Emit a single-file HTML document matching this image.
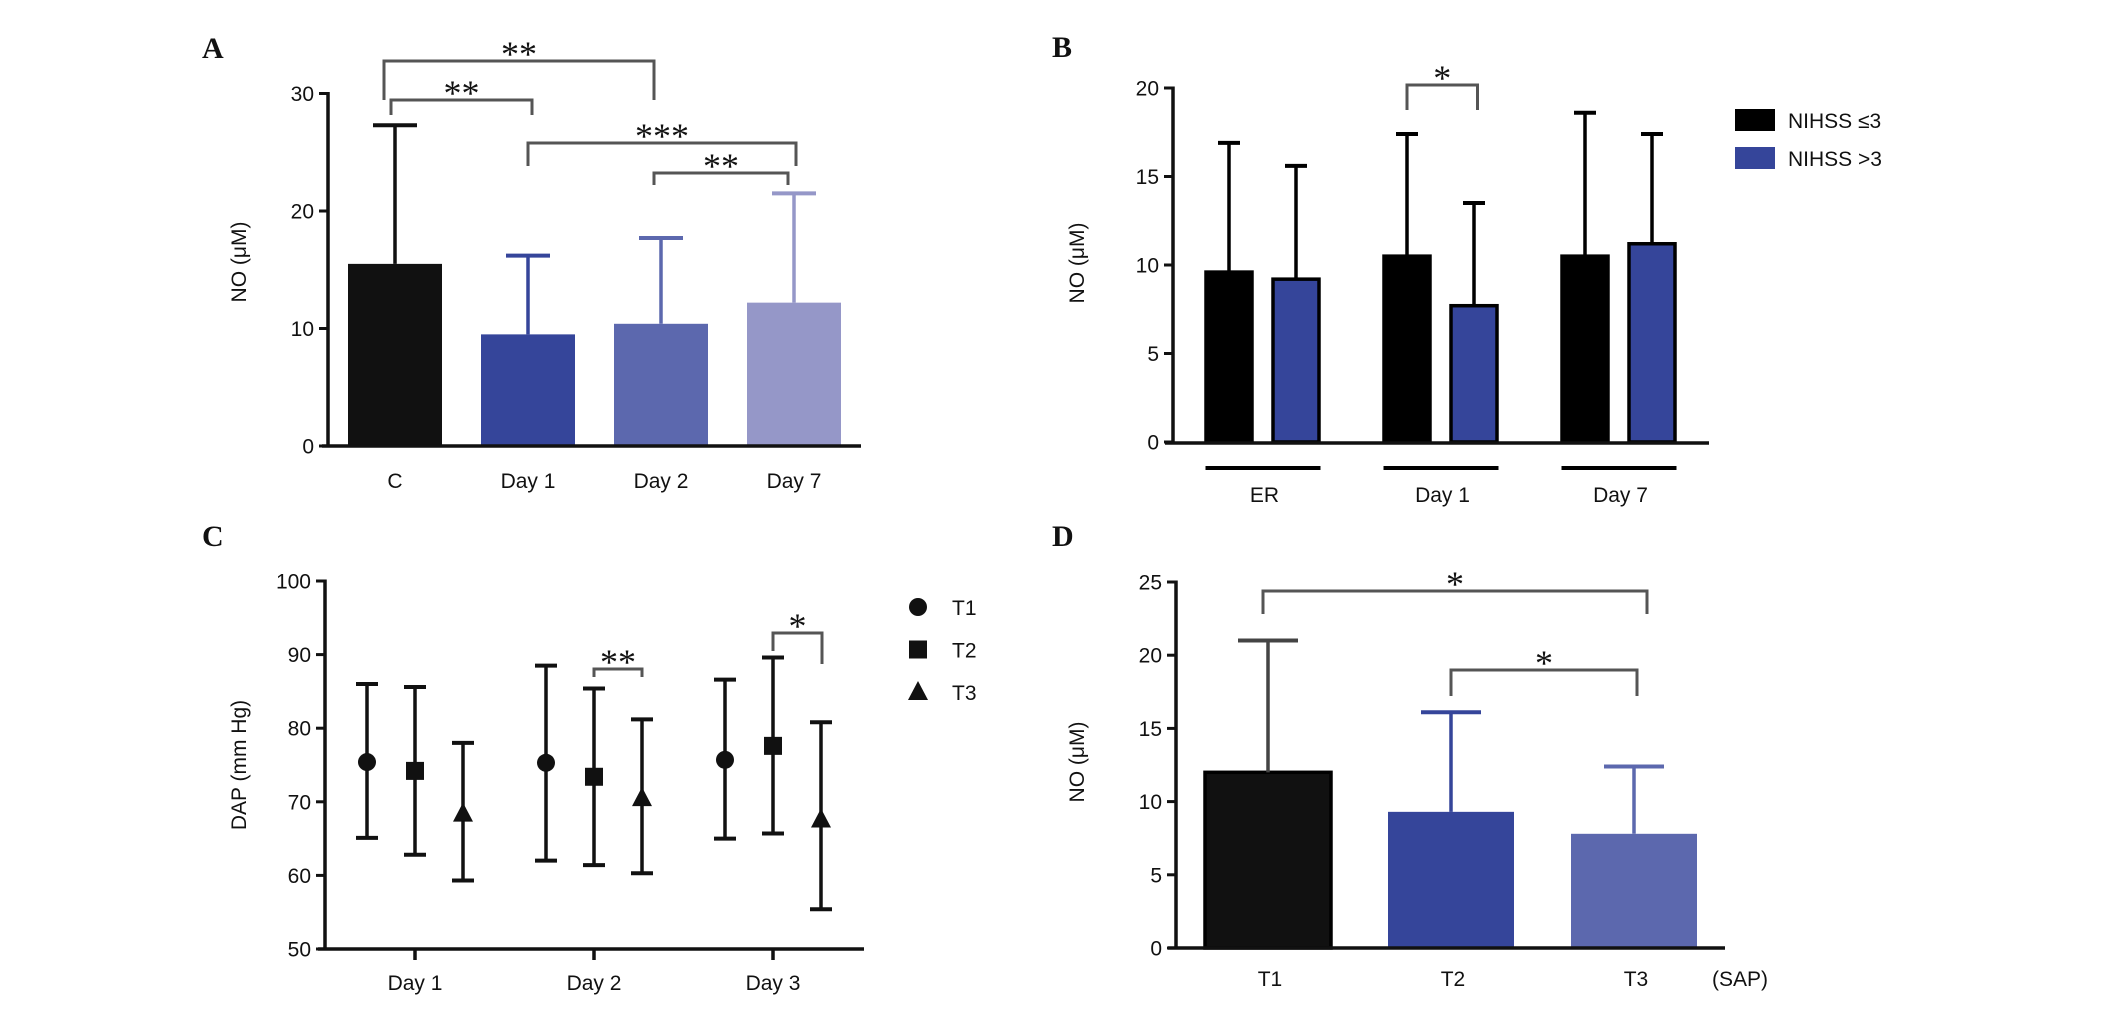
<!DOCTYPE html>
<html><head><meta charset="utf-8"><style>
html,body{margin:0;padding:0;background:#fff;}
svg{display:block;}
text{font-family:"Liberation Sans",sans-serif;fill:#111;}
.lt{font-family:"Liberation Serif",serif;font-weight:bold;font-size:30px;}
.tk{font-size:21px;}
.st{font-family:"Liberation Serif",serif;font-size:36px;}
</style></head><body>
<svg id="fig" width="2126" height="1024" viewBox="0 0 2126 1024" xmlns="http://www.w3.org/2000/svg">
<text class="lt" x="202" y="58">A</text>
<text class="lt" x="1052" y="57">B</text>
<text class="lt" x="202" y="546">C</text>
<text class="lt" x="1052" y="546">D</text>
<g id="gA"></g>
<g id="gB"></g>
<g id="gC"></g>
<g id="gD"></g>
</svg>
<script>
// Panel A data
const aCats = ["C","Day 1","Day 2","Day 7"];
const aMeans = [15.5, 9.5, 10.4, 12.2];
const aSD = [11.8, 6.7, 7.3, 9.3];
const aTicks = [0,10,20,30];
// Panel B data
const bGroups = ["ER","Day 1","Day 7"];
const bSeries = ["NIHSS \u22643","NIHSS >3"];
const bLow = [9.6, 10.5, 10.5];
const bLowSD = [7.3, 6.9, 8.1];
const bHigh = [9.2, 7.7, 11.2];
const bHighSD = [6.4, 5.8, 6.2];
const bTicks = [0,5,10,15,20];
// Panel C data
const cDays = ["Day 1","Day 2","Day 3"];
const cSeries = ["T1","T2","T3"];
const cT1 = [75.4, 75.3, 75.7];
const cT1Hi = [86.0, 88.5, 86.6];
const cT1Lo = [65.1, 62.0, 65.0];
const cT2 = [74.2, 73.4, 77.6];
const cT2Hi = [85.6, 85.4, 89.6];
const cT2Lo = [62.8, 61.4, 65.7];
const cT3 = [68.4, 70.5, 67.6];
const cT3Hi = [78.0, 81.2, 80.8];
const cT3Lo = [59.3, 60.3, 55.4];
const cTicks = [50,60,70,80,90,100];
// Panel D data
const dCats = ["T1","T2","T3"];
const dMeans = [12.0, 9.3, 7.8];
const dSD = [9.0, 6.8, 4.6];
const dTicks = [0,5,10,15,20,25];

const NS="http://www.w3.org/2000/svg";
function mk(parent, tag, attrs, txt){
  const e=document.createElementNS(NS,tag);
  for(const k in attrs) e.setAttribute(k,attrs[k]);
  if(txt!==undefined) e.textContent=txt;
  parent.appendChild(e); return e;
}
function ln(p,x1,y1,x2,y2,col,w,name){
  const e=mk(p,'line',{x1:x1,y1:y1,x2:x2,y2:y2,stroke:col,'stroke-width':w});
  
  
  return e;
}
function yAxis(p,ax,yf,ticks,top,bot,name){
  ln(p,ax,top-1.5,ax,bot+1.5,'#111',3.5,name+'-y-axis');
  ticks.forEach(t=>{
    const y=yf(t);
    ln(p,ax-9,y,ax,y,'#111',3,name+'-y-tick');
    const tx=mk(p,'text',{x:ax-14,y:y+7.5,'text-anchor':'end',class:'tk'},String(t));
    
    
  });
}
function yTitle(p,x,y,txt,name){
  const t=mk(p,'text',{x:x,y:y,'text-anchor':'middle',class:'tk',transform:'rotate(-90 '+x+' '+y+')'},txt);
  
  
}
function label(p,x,y,txt,name,size){
  const t=mk(p,'text',{x:x,y:y,'text-anchor':'middle',class:'tk'},txt);
  if(size) t.setAttribute('font-size',size);
  
  
  return t;
}
function bracket(p,x1,x2,y,l1,l2,stars,name){
  const e=mk(p,'path',{d:'M'+x1+' '+l1+' L'+x1+' '+y+' L'+x2+' '+y+' L'+x2+' '+l2,fill:'none',stroke:'#555','stroke-width':3});
  
  
  const t=mk(p,'text',{x:(x1+x2)/2,y:y+5,'text-anchor':'middle',class:'st'},stars);
  
  
}
function bar(p,cx,w,y0,yv,fill,stroke,name){
  const r=mk(p,'rect',{x:cx-w/2,y:yv,width:w,height:y0-yv,fill:fill});
  if(stroke){r.setAttribute('stroke',stroke);r.setAttribute('stroke-width',3.5);}
  
  
}
function err(p,cx,y1,y2,cap,col,name){
  ln(p,cx,y1,cx,y2,col,3.5,name);
  ln(p,cx-cap/2,y2,cx+cap/2,y2,col,4,name+'-cap');
}

// ---------- Panel A ----------
(function(){
  const g=document.getElementById('gA');
  const yA=v=>446-v*11.75;
  const xA=i=>395+i*133;
  const cols=['#111111','#35459a','#5c68ae','#9597c8'];
  aCats.forEach((c,i)=>{
    bar(g,xA(i),94,446,yA(aMeans[i]),cols[i],null,'bar-a-'+i);
    err(g,xA(i),yA(aMeans[i]),yA(aMeans[i]+aSD[i]),44,cols[i],'error-bar-a-'+i);
    label(g,xA(i),488,c,'x-tick-label-a');
  });
  yAxis(g,328,yA,aTicks,yA(30),446,'panel-a');
  ln(g,322,446,861,446,'#111',3.5,'panel-a-x-axis');
  yTitle(g,246,262,'NO (\u03bcM)','panel-a-y-axis-title');
  bracket(g,xA(0)-11,xA(2)-7,61,100,100,'**','bracket-c-day2');
  bracket(g,xA(0)-4,xA(1)+4,100,115,115,'**','bracket-c-day1');
  bracket(g,xA(1),xA(3)+2,143,166,166,'***','bracket-day1-day7');
  bracket(g,xA(2)-7,xA(3)-6,173,185,185,'**','bracket-day2-day7');
})();

// ---------- Panel B ----------
(function(){
  const g=document.getElementById('gB');
  const yB=v=>442-v*17.7;
  const xG=i=>1262.5+i*178;
  const cols=['#000000','#35459a'];
  bGroups.forEach((gr,i)=>{
    const xl=xG(i)-33.5, xh=xG(i)+33.5;
    bar(g,xl,46,442,yB(bLow[i]),cols[0],'#000','bar-b-low-'+i);
    err(g,xl,yB(bLow[i]),yB(bLow[i]+bLowSD[i]),22,'#000','error-bar-b-low-'+i);
    bar(g,xh,46,442,yB(bHigh[i]),cols[1],'#000','bar-b-high-'+i);
    err(g,xh,yB(bHigh[i]),yB(bHigh[i]+bHighSD[i]),22,'#000','error-bar-b-high-'+i);
    ln(g,xG(i)-57,468,xG(i)+58,468,'#000',4,'group-line-b');
    label(g,xG(i)+2,502,gr,'x-group-label-b');
  });
  yAxis(g,1173,yB,bTicks,yB(20),442,'panel-b');
  ln(g,1165,443,1709,443,'#111',3.5,'panel-b-x-axis');
  yTitle(g,1084,263,'NO (\u03bcM)','panel-b-y-axis-title');
  bracket(g,xG(1)-33.5,xG(1)+37,85,110,110,'*','bracket-b-day1');
  bSeries.forEach((s,i)=>{
    const r=mk(g,'rect',{x:1735,y:109+i*38,width:40,height:22,fill:cols[i]});
    
    
    const t=mk(g,'text',{x:1788,y:128+i*38,class:'tk','font-size':'22'},s);
    
    
  });
})();

// ---------- Panel C ----------
(function(){
  const g=document.getElementById('gC');
  const yC=v=>949-(v-50)*7.36;
  const xC=i=>415+i*179;
  const ser=[[cT1,cT1Hi,cT1Lo],[cT2,cT2Hi,cT2Lo],[cT3,cT3Hi,cT3Lo]];
  function marker(p,k,x,y,name){
    let e;
    if(k===0) e=mk(p,'circle',{cx:x,cy:y,r:9,fill:'#111'});
    else if(k===1) e=mk(p,'rect',{x:x-9,y:y-9,width:18,height:18,fill:'#111'});
    else e=mk(p,'polygon',{points:(x-10)+','+(y+8)+' '+(x+10)+','+(y+8)+' '+x+','+(y-11),fill:'#111'});
    
    
  }
  cDays.forEach((d,i)=>{
    ser.forEach((s,k)=>{
      const x=xC(i)+(k-1)*48;
      ln(g,x,yC(s[1][i]),x,yC(s[2][i]),'#111',3.5,'error-bar-c');
      ln(g,x-11,yC(s[1][i]),x+11,yC(s[1][i]),'#111',4,'error-cap-c');
      ln(g,x-11,yC(s[2][i]),x+11,yC(s[2][i]),'#111',4,'error-cap-c');
      marker(g,k,x,yC(s[0][i]),'point-c-'+cSeries[k]);
    });
    ln(g,xC(i),949,xC(i),960,'#111',3.5,'x-tick-c');
    label(g,xC(i),990,d,'x-tick-label-c');
  });
  yAxis(g,325,yC,cTicks,yC(100),949,'panel-c');
  ln(g,318,949,864,949,'#111',3.5,'panel-c-x-axis');
  yTitle(g,246,765,'DAP (mm Hg)','panel-c-y-axis-title');
  bracket(g,xC(1),xC(1)+48,669,677,677,'**','bracket-c-day2');
  bracket(g,xC(2),xC(2)+49,633,651,664,'*','bracket-c-day3');
  cSeries.forEach((s,k)=>{
    marker(g,k,918,607+k*42.5,'legend-marker-c');
    const t=mk(g,'text',{x:952,y:615+k*42.5,class:'tk','font-size':'22'},s);
    
    
  });
})();

// ---------- Panel D ----------
(function(){
  const g=document.getElementById('gD');
  const yD=v=>948-v*14.64;
  const xD=i=>1268+i*183;
  const cols=['#111111','#35459a','#5c68ae'];
  const ecol=['#444444','#35459a','#5c68ae'];
  dCats.forEach((c,i)=>{
    bar(g,xD(i),126,948,yD(dMeans[i]),cols[i],i===0?'#000':null,'bar-d-'+i);
    err(g,xD(i),yD(dMeans[i]),yD(dMeans[i]+dSD[i]),60,ecol[i],'error-bar-d-'+i);
    label(g,xD(i)+2,986,c,'x-tick-label-d');
  });
  yAxis(g,1176,yD,dTicks,yD(25),948,'panel-d');
  ln(g,1168,948,1725,948,'#111',3.5,'panel-d-x-axis');
  yTitle(g,1084,762,'NO (\u03bcM)','panel-d-y-axis-title');
  label(g,1740,986,'(SAP)','x-axis-note-d');
  bracket(g,xD(0)-5,xD(2)+13,591,614,614,'*','bracket-t1-t3');
  bracket(g,xD(1),xD(2)+3,670,696,696,'*','bracket-t2-t3');
})();
</script>
</body></html>
